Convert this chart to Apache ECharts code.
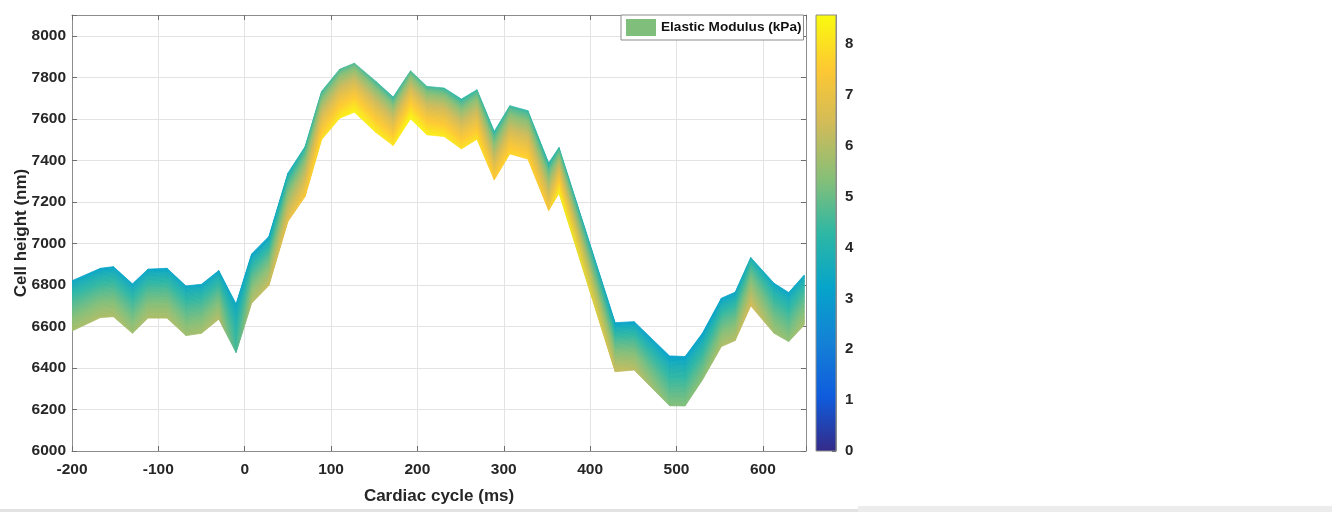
<!DOCTYPE html>
<html><head><meta charset="utf-8">
<script src="https://cdn.jsdelivr.net/npm/echarts@6/dist/echarts.min.js"></script>
<style>html,body{margin:0;padding:0;background:#fff}#c{width:1332px;height:512px}</style>
</head><body><div id="c"></div>
<script>
// ---- data ----
const times = [-200,-167,-152,-130,-112,-90,-68,-50,-30,-10,8,28,50,70,89,110,127,152,172,192,211,231,251,269,289,307,328,352,364,429,451,492,510,530,552,568,586,613,630,648];
const upperHeight = [6820,6880,6888,6805,6876,6880,6795,6803,6869,6708,6949,7033,7338,7467,7732,7839,7868,7780,7705,7831,7756,7748,7695,7740,7539,7663,7639,7387,7462,6618,6623,6458,6455,6567,6736,6765,6932,6808,6763,6848];
const lowerHeight = [6578,6643,6647,6567,6640,6640,6556,6567,6635,6474,6712,6797,7105,7226,7499,7603,7632,7534,7471,7600,7523,7515,7455,7502,7306,7431,7406,7158,7242,6382,6390,6218,6217,6342,6503,6532,6699,6567,6527,6607];
const modulusTop = [3.2,3.1,3.1,3.2,3.1,3.1,3.2,3.2,3.1,3.3,3.0,3.0,3.4,3.9,4.2,4.4,4.5,4.3,4.1,4.4,4.3,4.2,4.0,4.2,3.9,4.2,4.1,3.8,4.0,3.0,3.0,3.0,3.0,3.0,3.0,3.1,3.6,3.2,3.1,3.3];
const modulusBottom = [5.8,5.9,5.9,5.7,5.9,5.9,5.7,5.8,6.0,4.6,6.0,6.3,6.9,7.4,7.9,8.2,8.4,8.2,8.1,8.5,8.3,8.2,8.0,8.0,7.5,7.8,7.7,7.3,8.3,6.3,6.1,5.3,5.3,5.4,5.9,6.0,6.5,5.7,5.5,5.8];
const xTicks = [-200,-100,0,100,200,300,400,500,600];
const yTicks = [6000,6200,6400,6600,6800,7000,7200,7400,7600,7800,8000];
const colorTicks = [0,1,2,3,4,5,6,7,8];
const xMax = 650, yMax = 8100, colorMax = 8.57;
const seriesName = 'Elastic Modulus (kPa)';

// ---- styling ----
const FONT = "'Liberation Sans',Arial,Helvetica,sans-serif";
const parulaStops = ['#352a87','#0f5cdd','#1481d6','#06a4ca','#2eb7a4','#87bf77','#d1bb59','#fec832','#f9fb0e'];
const LAYERS = 40;
const profileExp = 0.7;

function cmap(v){ return echarts.color.lerp(Math.max(0,Math.min(1,v/colorMax)), parulaStops); }
function layerValue(i, t){ return modulusTop[i] + (modulusBottom[i]-modulusTop[i])*Math.pow(t, profileExp); }

const cells = [];
for (let i=0;i<times.length-1;i++) for (let j=0;j<LAYERS;j++) cells.push([i,j]);

const chart = echarts.init(document.getElementById('c'), null, {renderer:'canvas'});
const axisLabelStyle = {fontFamily:FONT, fontWeight:'bold', fontSize:15.5, color:'#262626'};
const gridLine = {show:true, lineStyle:{color:'#e3e3e3', width:1}};
const boxLine = {show:true, onZero:false, lineStyle:{color:'#8c8c8c', width:1}};
const tickIn = {show:true, inside:true, length:5, lineStyle:{color:'#6e6e6e'}};

chart.setOption({
  animation:false,
  backgroundColor:'#ffffff',
  grid:[
    {left:72, top:15, width:734, height:436, outerBoundsMode:'none', containLabel:false},
    {left:816, top:15, width:20, height:436, outerBoundsMode:'none', containLabel:false}
  ],
  legend:{
    left:621, top:15, orient:'horizontal', selectedMode:false,
    backgroundColor:'#ffffff', borderColor:'#8c8c8c', borderWidth:1, borderRadius:0,
    padding:[4,2,4,5], itemWidth:30, itemHeight:17, itemGap:4,
    textStyle:{fontFamily:FONT, fontWeight:'bold', fontSize:13.6, color:'#111'},
    data:[{name:seriesName, icon:'rect', itemStyle:{color:'#7fbf7b', borderWidth:0}}]
  },
  xAxis:[
    {gridIndex:0, type:'value', position:'bottom', min:xTicks[0], max:xMax, interval:xTicks[1]-xTicks[0],
     name:'Cardiac cycle (ms)', nameLocation:'middle', nameGap:37, nameMoveOverlap:false,
     nameTextStyle:{fontFamily:FONT, fontWeight:'bold', fontSize:17, color:'#262626'},
     axisLine:boxLine, axisTick:tickIn, splitLine:gridLine,
     axisLabel:Object.assign({margin:11, formatter:v=>xTicks.includes(v)?String(v):''}, axisLabelStyle)},
    {gridIndex:0, type:'value', position:'top', min:xTicks[0], max:xMax, interval:xTicks[1]-xTicks[0],
     axisLine:boxLine, axisTick:tickIn, splitLine:{show:false}, axisLabel:{show:false}},
    {gridIndex:1, type:'value', min:0, max:1, show:false}
  ],
  yAxis:[
    {gridIndex:0, type:'value', position:'left', min:yTicks[0], max:yMax, interval:yTicks[1]-yTicks[0],
     name:'Cell height (nm)', nameLocation:'middle', nameGap:42, nameRotate:90, nameMoveOverlap:false,
     nameTextStyle:{fontFamily:FONT, fontWeight:'bold', fontSize:17, color:'#262626'},
     axisLine:boxLine, axisTick:tickIn, splitLine:gridLine,
     axisLabel:Object.assign({margin:6, formatter:v=>yTicks.includes(v)?String(v):''}, axisLabelStyle)},
    {gridIndex:0, type:'value', position:'right', min:yTicks[0], max:yMax, interval:yTicks[1]-yTicks[0],
     axisLine:boxLine, axisTick:tickIn, splitLine:{show:false}, axisLabel:{show:false}},
    {gridIndex:1, type:'value', position:'right', min:0, max:colorMax, interval:1,
     axisLine:{show:true, onZero:false, lineStyle:{color:'#8c8c8c'}},
     axisTick:{show:true, inside:true, length:4, lineStyle:{color:'#555'}},
     splitLine:{show:false},
     axisLabel:{margin:9, fontFamily:FONT, fontWeight:'bold', fontSize:15, color:'#262626',
       formatter:v=>colorTicks.includes(v)?String(v):''}}
  ],
  series:[
    {
      name:seriesName, type:'custom', xAxisIndex:0, yAxisIndex:0, clip:true, silent:true,
      data:cells,
      encode:{x:-1, y:-1},
      renderItem:function(params, api){
        const i = api.value(0), j = api.value(1);
        const t0 = j/LAYERS, t1 = (j+1)/LAYERS, tm = (j+0.5)/LAYERS;
        const pt = (k, t) => api.coord([times[k], upperHeight[k] + t*(lowerHeight[k]-upperHeight[k])]);
        const pts = [pt(i,t0), pt(i+1,t0), pt(i+1,t1), pt(i,t1)];
        const grad = new echarts.graphic.LinearGradient(0,0,1,0,[
          {offset:0, color:cmap(layerValue(i,tm))},
          {offset:1, color:cmap(layerValue(i+1,tm))}
        ]);
        return {type:'polygon', shape:{points:pts}, style:{fill:grad, stroke:grad, lineWidth:0.8}};
      }
    },
    {
      type:'custom', xAxisIndex:2, yAxisIndex:2, silent:true, data:[[0]],
      encode:{x:-1, y:-1},
      renderItem:function(params, api){
        const p0 = api.coord([0, colorMax]), p1 = api.coord([1, 0]);
        const stops = parulaStops.map((c,k)=>({offset:k/(parulaStops.length-1), color:c}));
        return {type:'rect', shape:{x:p0[0], y:p0[1], width:p1[0]-p0[0], height:p1[1]-p0[1]},
          style:{fill:new echarts.graphic.LinearGradient(0,1,0,0,stops), stroke:'#8c8c8c', lineWidth:1}};
      }
    }
  ],
  graphic:[
    {type:'rect', left:0, top:509, shape:{width:858, height:3}, style:{fill:'#e2e2e2'}, silent:true},
    {type:'rect', left:858, top:506, shape:{width:474, height:6}, style:{fill:'#ececec'}, silent:true}
  ]
});
</script></body></html>
